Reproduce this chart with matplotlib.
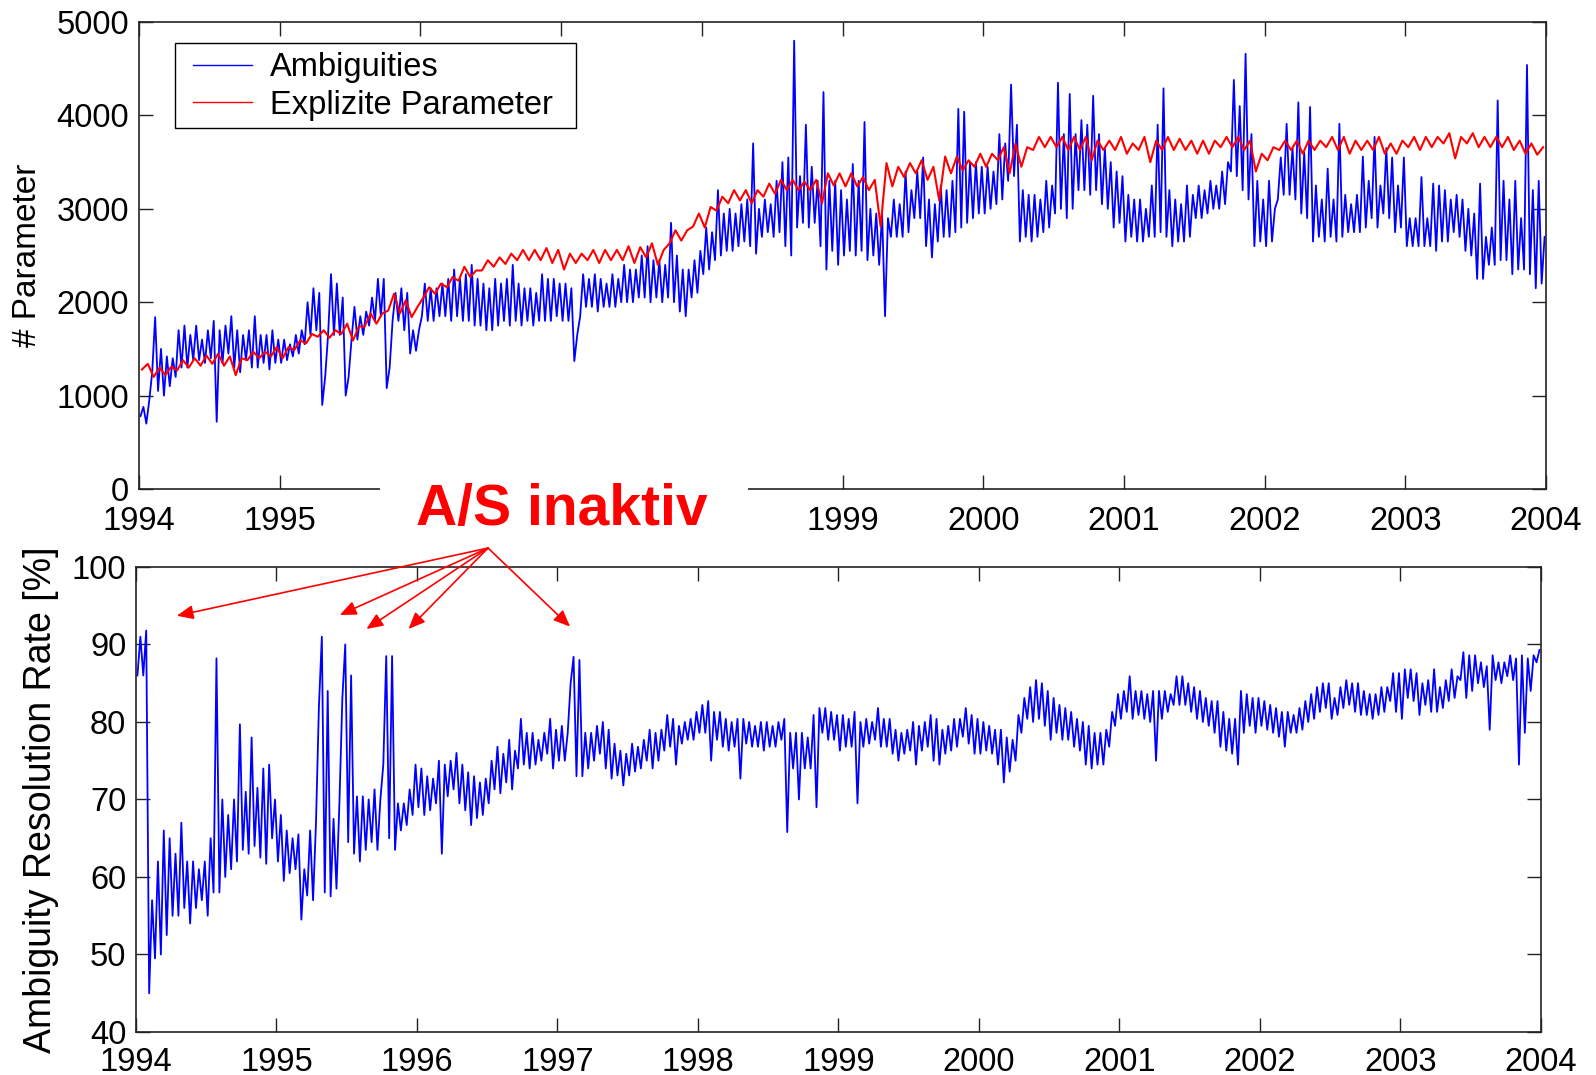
import numpy as np
import matplotlib
matplotlib.use('Agg')
import matplotlib.pyplot as plt
from matplotlib.patches import Rectangle

plt.rcParams['font.family'] = ['Liberation Sans', 'DejaVu Sans']

years = list(range(1994, 2005))
year_labels = [str(y) for y in years]
# the upper panel's 1996-1998 labels sit under the "A/S inaktiv" note
top_year_labels = ['' if y in (1996, 1997, 1998) else str(y) for y in years]

# Ambiguities (top, blue): upper / lower edge of the band per half month, 1994..2003
amb_hi = [
    880, 950, 1840, 1500, 1420, 1400, 1700, 1750, 1650, 1750, 1600, 1700, 1800, 1700, 1750, 1850, 1700, 1650, 1700, 1850, 1650, 1650, 1700, 1600,
    1600, 1550, 1650, 1700, 2000, 2150, 2100, 1200, 2300, 2200, 2050, 1200, 1950, 1850, 1900, 2050, 2250, 2250, 1300, 2100, 2150, 2100, 1700, 1700,
    2200, 2150, 2150, 2200, 2250, 2350, 2250, 2300, 2400, 2250, 2200, 2150, 2250, 2200, 2250, 2400, 2200, 2150, 2150, 2100, 2300, 2250, 2250, 2200,
    2200, 2150, 1650, 2300, 2250, 2300, 2250, 2200, 2300, 2250, 2400, 2350, 2350, 2500, 2600, 2450, 2450, 2400, 2850, 2500, 2350, 2350, 2450, 2550,
    2800, 2750, 3200, 2950, 3000, 2950, 3050, 3100, 3700, 3000, 3100, 3050, 3300, 3500, 3550, 4800, 3350, 3900, 3450, 3300, 4250, 3300, 3300, 3200,
    3100, 3480, 3300, 3930, 3000, 2950, 2950, 2900, 3100, 3050, 3400, 3200, 3400, 3550, 3100, 3050, 3250, 3200, 3300, 4070, 4040, 3500, 3500, 3450,
    3450, 3400, 3800, 3700, 4330, 3900, 3200, 3150, 3150, 3100, 3300, 3250, 4350, 3800, 4230, 3800, 3950, 3900, 4210, 3800, 3650, 3500, 3400, 3350,
    3150, 3100, 3100, 3000, 3250, 3900, 4290, 3200, 3100, 3050, 3250, 3150, 3250, 3200, 3300, 3250, 3400, 3500, 4380, 4100, 4660, 3800, 3300, 3100,
    3300, 3000, 3550, 3910, 3650, 4140, 3600, 4090, 3250, 3100, 3430, 3100, 3910, 3150, 3050, 3150, 3560, 3300, 3770, 3250, 3650, 3550, 3250, 3550,
    2900, 2900, 3340, 2900, 3270, 3250, 3200, 3100, 3150, 3100, 3000, 2950, 3270, 2700, 2800, 4160, 3300, 3100, 3300, 2900, 4540, 3200, 3300, 2700,
]
amb_lo = [
    780, 700, 1250, 1050, 1000, 1100, 1200, 1300, 1300, 1380, 1380, 1350, 1400, 720, 1350, 1450, 1300, 1250, 1380, 1300, 1300, 1350, 1280, 1350,
    1350, 1380, 1420, 1450, 1550, 1650, 1700, 900, 1650, 1650, 1650, 1000, 1600, 1600, 1650, 1750, 1800, 1850, 1080, 1800, 1800, 1700, 1450, 1480,
    1850, 1800, 1800, 1850, 1850, 1800, 1850, 1800, 1800, 1750, 1750, 1700, 1700, 1750, 1800, 1750, 1800, 1750, 1800, 1750, 1800, 1800, 1800, 1850,
    1800, 1800, 1370, 1850, 1950, 1950, 1900, 1950, 1950, 1950, 2000, 2000, 2000, 2050, 2050, 2000, 2050, 2000, 2050, 2000, 1900, 1850, 2050, 2100,
    2300, 2350, 2450, 2500, 2550, 2550, 2600, 2650, 2600, 2520, 2700, 2750, 2700, 2750, 2600, 2500, 2800, 2850, 2800, 2850, 2600, 2350, 2550, 2400,
    2500, 2550, 2500, 2550, 2450, 2500, 2400, 1850, 2700, 2700, 2700, 2750, 2900, 2900, 2600, 2480, 2650, 2700, 2700, 2750, 2800, 2850, 2900, 2950,
    2950, 3000, 3050, 3100, 3300, 3350, 2650, 2700, 2650, 2700, 2750, 2800, 2950, 3000, 2900, 3000, 3200, 3200, 3150, 3200, 3050, 3000, 2800, 2850,
    2650, 2700, 2650, 2650, 2700, 2700, 2750, 2700, 2600, 2650, 2650, 2700, 2900, 2900, 2950, 3000, 3000, 3050, 3400, 3350, 3200, 3100, 2600, 2650,
    2600, 2650, 3100, 3150, 3150, 3100, 2950, 2900, 2650, 2700, 2650, 2700, 2650, 2700, 2750, 2750, 2750, 2800, 2900, 2800, 2950, 2900, 2750, 2800,
    2600, 2600, 2600, 2600, 2600, 2550, 2650, 2650, 2750, 2700, 2550, 2500, 2250, 2250, 2400, 2400, 2450, 2450, 2300, 2350, 2350, 2300, 2150, 2200,
]

# Explizite Parameter (top, red): upper / lower edge per month, 1994..2003
expl_hi = [
    1340, 1300, 1310, 1380, 1400, 1430, 1450, 1420, 1400, 1470, 1470, 1520,
    1520, 1590, 1660, 1700, 1700, 1770, 1740, 1880, 1880, 2090, 2020, 1950,
    2160, 2200, 2270, 2380, 2340, 2450, 2480, 2520, 2560, 2560, 2580, 2560,
    2520, 2520, 2560, 2560, 2560, 2600, 2590, 2630, 2560, 2770, 2770, 2950,
    3020, 3130, 3200, 3200, 3200, 3270, 3310, 3310, 3290, 3310, 3380, 3380,
    3380, 3340, 3310, 3490, 3450, 3490, 3520, 3450, 3560, 3560, 3520, 3590,
    3590, 3660, 3700, 3660, 3770, 3770, 3770, 3770, 3770, 3730, 3730, 3770,
    3700, 3770, 3730, 3770, 3750, 3730, 3730, 3730, 3770, 3770, 3730, 3590,
    3660, 3730, 3730, 3730, 3730, 3770, 3770, 3730, 3730, 3770, 3700, 3730,
    3770, 3770, 3770, 3810, 3770, 3810, 3770, 3770, 3770, 3730, 3700, 3660,
]
expl_lo = [
    1280, 1200, 1220, 1270, 1300, 1320, 1340, 1320, 1220, 1380, 1400, 1420,
    1400, 1490, 1560, 1630, 1620, 1660, 1590, 1740, 1770, 1910, 1880, 1840,
    2050, 2090, 2160, 2230, 2270, 2340, 2380, 2410, 2450, 2450, 2450, 2420,
    2350, 2420, 2450, 2420, 2450, 2450, 2420, 2480, 2400, 2630, 2660, 2810,
    2800, 2980, 3060, 3090, 3060, 3130, 3160, 3200, 3200, 3200, 3060, 3250,
    3240, 3240, 3200, 2810, 3240, 3340, 3380, 3310, 3090, 3380, 3410, 3450,
    3450, 3520, 3380, 3450, 3630, 3660, 3660, 3630, 3630, 3520, 3630, 3630,
    3590, 3630, 3500, 3630, 3630, 3630, 3590, 3590, 3660, 3660, 3630, 3400,
    3520, 3630, 3630, 3590, 3630, 3660, 3630, 3590, 3630, 3630, 3590, 3590,
    3660, 3630, 3660, 3700, 3540, 3700, 3660, 3660, 3660, 3630, 3590, 3580,
]

# Ambiguity resolution rate [%] (bottom): upper / lower edge per half month
rate_hi = [
    91, 91.8, 57, 62, 66, 65, 63, 67, 62, 62, 61, 62, 65, 88.2, 70, 68, 70, 79.7, 71, 78, 71.5, 74, 74.5, 70,
    68, 66, 65, 65.5, 61, 66, 67, 91, 84, 67.5, 69.5, 90, 86, 70.4, 70.4, 70, 71.3, 70, 88.5, 88.5, 69.5, 69.5, 71.3, 74.5,
    74, 73, 72.7, 75, 74.5, 75, 76, 74.5, 73.5, 73, 72.2, 72.7, 75, 76.8, 75.9, 77.7, 76.3, 80.4, 78.6, 78.6, 77.7, 78.6, 80.4, 79,
    79.5, 78.6, 88.4, 88, 78.6, 78.6, 79.5, 80, 79, 77.2, 76.3, 75.9, 77.2, 76.8, 77.7, 79, 78.6, 79, 80.9, 80.4, 79.5, 80, 80.4, 81.3,
    82.2, 82.7, 81.3, 81.3, 80.4, 80, 80.4, 80.4, 80, 79.5, 80, 80, 79.5, 80, 80.4, 78.6, 78.6, 78.6, 78, 80.9, 81.8, 81.8, 81.3, 80.9,
    80.9, 80.4, 81.3, 80, 80.4, 80, 81.8, 80.4, 80.4, 79, 78.6, 79, 80, 79.5, 80, 80.9, 80.4, 79, 79.5, 80.4, 80.4, 81.8, 80.9, 80.4,
    80, 79.5, 79, 79, 78, 77.7, 80.9, 83.1, 84.5, 85.4, 85, 84, 83.1, 82.2, 81.8, 81.3, 80.4, 80, 79.5, 78.6, 78.6, 79, 81.3, 83.6,
    84, 85.9, 84, 84, 83.6, 84, 84, 84, 83.6, 85.9, 85.9, 85, 84.5, 84, 83.1, 82.7, 82.7, 81.3, 80.4, 80.4, 84, 83.6, 83.1, 83.1,
    82.7, 82.2, 81.8, 81.3, 81.3, 80.9, 81.8, 82.7, 83.6, 84.5, 85, 85, 83.1, 84.5, 85.4, 85, 85, 84, 83.6, 83.6, 84.5, 84.5, 86.3, 86.3,
    86.8, 86.8, 86.3, 85, 85.4, 86.8, 84.5, 85.4, 86.8, 85.9, 89, 88.6, 88.6, 87.7, 87.2, 88.6, 87.7, 87.7, 88.6, 88.2, 88.6, 88.2, 88.6, 89.3,
]
rate_lo = [
    86, 86, 45, 49.5, 50, 52.5, 55, 55, 56, 54, 56, 57, 55, 58, 58, 60, 61, 62, 63.5, 63, 64, 62.5, 61.7, 65,
    62, 59.5, 60.5, 61, 54.5, 57.6, 57, 82, 58, 57.5, 58.5, 83, 64.5, 63, 62, 63.5, 64.5, 63.5, 74.5, 65, 63.5, 66, 66.7, 68,
    69, 68, 68.6, 69.5, 63, 70.4, 71.3, 69.5, 68.6, 66.7, 67.6, 68, 69.5, 71.3, 70.8, 72.2, 71.3, 74, 74.5, 74, 74.5, 75, 75.9, 74,
    75, 75, 85, 73, 73, 74, 75, 75.9, 74, 72.7, 73.1, 71.8, 73.1, 73.6, 74, 75, 74, 75, 76.3, 76.8, 74.5, 77.2, 77.7, 77.7,
    78.6, 78.6, 75, 77.7, 76.8, 76.3, 76.8, 72.7, 77.2, 76.8, 76.8, 76.3, 76.8, 76.8, 77.7, 65.8, 74, 70, 74, 74, 69, 78.6, 77.7, 77.7,
    76.3, 76.8, 76.8, 69.5, 76.8, 77.2, 77.7, 76.8, 76.8, 75.9, 75, 75.9, 76.3, 74.5, 76.3, 76.8, 75, 74.5, 75.9, 76.3, 76.8, 78.1, 77.2, 75.9,
    75.9, 76.3, 75.9, 74.5, 72.2, 73.6, 75, 78.6, 80.4, 80, 80.4, 79.5, 77.7, 78.6, 77.7, 77.7, 76.8, 76.3, 74.5, 74, 74.5, 74.5, 76.8, 79.5,
    80.4, 81.3, 80.4, 80.9, 80.4, 80, 75, 80.4, 81.3, 82.2, 82.2, 82.2, 81.3, 80.4, 80, 79.5, 78.6, 76.8, 76.3, 75.9, 74.5, 78.6, 79.5, 78.6,
    79.5, 79, 78.6, 78.1, 76.8, 78.6, 78.6, 79, 80, 80.4, 81.3, 81.8, 80.4, 80.9, 81.8, 82.2, 81.3, 80.9, 80.9, 80.4, 80.9, 81.3, 82.7, 81.3,
    80.4, 83.1, 82.7, 80.9, 82.2, 81.3, 81.3, 81.8, 82.7, 83.1, 85.4, 83.1, 84, 85, 84.5, 79, 85.4, 85, 85.9, 85.4, 74.5, 78.6, 84, 87.7,
]

# arrow tips (data coords of lower panel) for the "A/S inaktiv" note
arrow_x = [1994.29, 1995.45, 1995.64, 1995.94, 1997.09]
arrow_y = [93.7, 93.8, 92.0, 92.0, 92.3]


def band(lo, hi, per_year):
    # each period: lower edge first, then upper edge
    n = len(lo)
    t = np.empty(2 * n)
    v = np.empty(2 * n)
    idx = np.arange(n)
    t[0::2] = 1994 + (idx + 0.25) / per_year
    t[1::2] = 1994 + (idx + 0.75) / per_year
    v[0::2] = lo
    v[1::2] = hi
    return t, v


def style(ax, labels, xpad):
    ax.tick_params(direction='in', length=10, width=1, top=True, right=True,
                   labelsize=23.5, colors='#222222', labelcolor='black')
    ax.tick_params(axis='y', pad=7)
    ax.tick_params(axis='x', pad=xpad)
    for s in ax.spines.values():
        s.set_linewidth(1.2)
        s.set_color('#222222')
    ax.set_xlim(1994, 2004)
    ax.set_xticks(years)
    ax.set_xticklabels(labels)


fig = plt.figure(figsize=(15.96, 10.75), dpi=100)
ax1 = fig.add_axes([0.0871, 0.5451, 0.8816, 0.4344])
ax2 = fig.add_axes([0.0852, 0.0400, 0.8803, 0.4326])

t, v = band(amb_lo, amb_hi, 24)
ax1.plot(t, v, color='#0000ff', lw=1.3, label='Ambiguities')
t, v = band(expl_lo, expl_hi, 12)
ax1.plot(t, v, color='#ff0000', lw=1.5, label='Explizite Parameter')
style(ax1, top_year_labels, 12.5)
ax1.set_ylim(0, 5000)
ax1.set_yticks(range(0, 5001, 1000))
ax1.set_ylabel('# Parameter', fontsize=24)
ax1.yaxis.set_label_coords(-0.068, 0.5)

# legend: square black frame drawn separately, entries placed inside it
ax1.add_patch(Rectangle((0.0256, 0.773), 0.285, 0.182, transform=ax1.transAxes,
                        facecolor='white', edgecolor='black', lw=1.0, zorder=4))
leg = ax1.legend(loc='upper left', bbox_to_anchor=(0.0384, 0.935), borderaxespad=0,
                 frameon=False, fontsize=23.5, borderpad=0,
                 handlelength=1.8, handletextpad=0.55, labelspacing=0.2)
for line in leg.get_lines():
    line.set_linewidth(1.0)

t, v = band(rate_lo, rate_hi, 24)
ax2.plot(t, v, color='#0000ff', lw=1.3)
style(ax2, year_labels, 10.5)
ax2.set_ylim(40, 100)
ax2.set_yticks(range(40, 101, 10))
ax2.set_ylabel('Ambiguity Resolution Rate [%]', fontsize=27)
ax2.yaxis.set_label_coords(-0.055, 0.5)

# white patch hiding part of the upper axis, with the note on it
fig.patches.append(Rectangle((0.2381, 0.4930), 0.2306, 0.0698, transform=fig.transFigure,
                             facecolor='white', edgecolor='none', zorder=5))
fig.text(0.3521, 0.5116, 'A/S inaktiv', fontsize=41, fontweight='bold', color='#ff0000',
         ha='center', va='baseline', zorder=6)

for x, y in zip(arrow_x, arrow_y):
    ax2.annotate('', xy=(x, y), xycoords='data', xytext=(0.3058, 0.4902),
                 textcoords='figure fraction', annotation_clip=False, zorder=7,
                 arrowprops=dict(arrowstyle='-|>,head_length=0.4,head_width=0.17',
                                 color='#ff0000', lw=1.2, shrinkA=0, shrinkB=0,
                                 mutation_scale=25))

fig.savefig('out.png', dpi=100)
